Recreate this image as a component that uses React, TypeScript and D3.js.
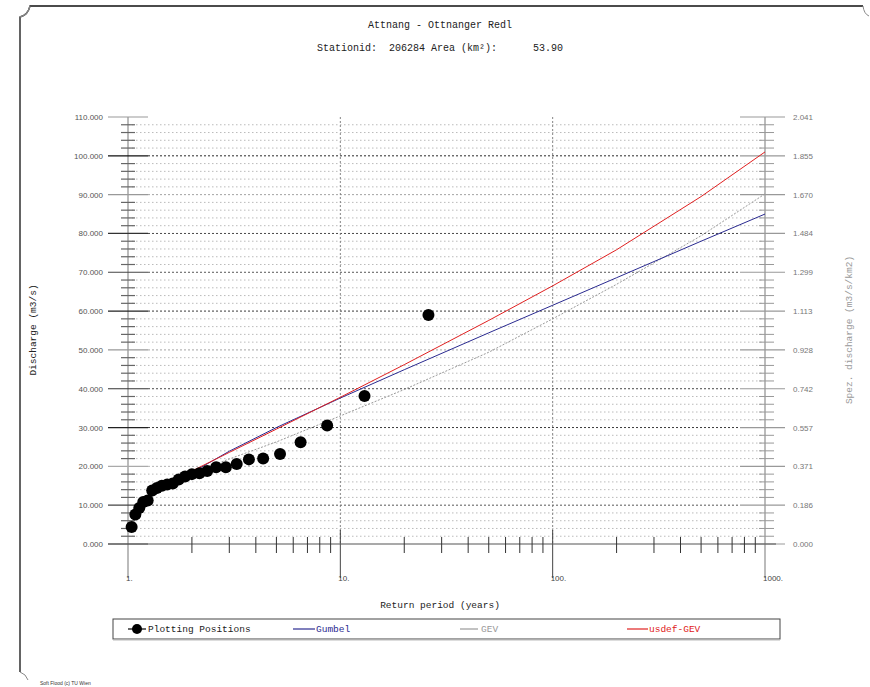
import React from 'react';
import * as d3 from 'd3';

// Plotting positions (return period in years, discharge in m3/s)
const plotT = [26, 13, 8.67, 6.5, 5.2, 4.33, 3.71, 3.25, 2.89, 2.6, 2.36, 2.17, 2.0,
    1.857, 1.733, 1.625, 1.53, 1.444, 1.368, 1.3, 1.238, 1.18, 1.13, 1.083, 1.04];
const plotQ = [59.0, 38.1, 30.5, 26.2, 23.2, 22.0, 21.8, 20.6, 19.8, 19.8, 18.8, 18.2, 18.0,
    17.4, 16.6, 15.6, 15.3, 15.0, 14.4, 13.8, 11.2, 10.8, 9.3, 7.6, 4.4];

// Fitted curves, read at these return periods
const curveT = [2, 3, 5, 10, 20, 50, 100, 200, 500, 1000];
const gumbelQ = [18.4, 23.9, 30.0, 37.6, 44.9, 54.4, 61.5, 68.6, 78.0, 85.0];
const gevQ = [18.4, 21.9, 26.3, 33.0, 39.8, 49.4, 58.0, 66.9, 79.4, 90.2];
const usdefQ = [18.8, 23.6, 29.6, 37.8, 46.2, 57.6, 66.5, 75.8, 89.5, 101.0];

const xTickLabels = ['1.', '10.', '100.', '1000.'];
const xTickValues = [1, 10, 100, 1000];
const area = 53.9;

const W = 870;
const H = 687;
const mono = '"Liberation Mono", "DejaVu Sans Mono", monospace';
const sans = '"Liberation Sans", Arial, sans-serif';

export default function App() {
    const x = d3.scaleLog().domain([1, 1000]).range([128, 765]);
    const y = d3.scaleLinear().domain([0, 110]).range([544, 117]);

    const majors = d3.range(0, 111, 10);
    const minors = d3.range(2, 110, 2).filter(v => v % 10 !== 0);
    const majorColor: Record<number, string> = {
        0: '#555', 10: '#444', 20: '#aaa', 30: '#222', 40: '#333', 50: '#999',
        60: '#222', 70: '#444', 80: '#333', 90: '#999', 100: '#111', 110: '#999'
    };

    const xMinor: number[] = [];
    [1, 10, 100].forEach(d => { for (let k = 2; k <= 9; k++) xMinor.push(d * k); });

    const line = d3.line<number>().x((_, i) => x(curveT[i])).y(d => y(d));

    const right = x(1000);
    const left = x(1);

    return (
        <svg width={W} height={H} style={{ position: 'absolute', left: 0, top: 0, background: '#fff' }}>
            {/* page frame */}
            <g fill="none">
                <path d="M20,672 L20,17 Q28,15 30,6 L863,6" stroke="#111" strokeWidth={1.3} />
                <path d="M20,17 Q28,15 30,6" stroke="#888" strokeWidth={1.3} />
                <path d="M863,6 Q864,14 869,16" stroke="#888" strokeWidth={1} />
                <path d="M20,672 Q26,674 28,680" stroke="#888" strokeWidth={1} />
            </g>
            <text x={40} y={685} fontFamily={sans} fontSize={5} fill="#333">Soft Flood (c) TU Wien</text>

            {/* titles */}
            <text x={440} y={28} textAnchor="middle" fontFamily={mono} fontSize={10} fill="#222">Attnang - Ottnanger Redl</text>
            <text x={440} y={51} textAnchor="middle" fontFamily={mono} fontSize={10} fill="#222" style={{ whiteSpace: 'pre' }}>
                {'Stationid:  206284 Area (km²):      53.90'}
            </text>

            {/* horizontal dotted grid */}
            {minors.map(v => (
                <line key={'g' + v} x1={left} x2={right} y1={y(v)} y2={y(v)} stroke="#aaa" strokeWidth={0.8} strokeDasharray="1.5,2.5" />
            ))}
            {majors.filter(v => v > 0 && v < 110).map(v => (
                <line key={'G' + v} x1={148} x2={740} y1={y(v)} y2={y(v)} stroke={majorColor[v]} strokeWidth={0.9} strokeDasharray="2,2" />
            ))}

            {/* vertical grid at 10 and 100 */}
            {[10, 100].map(v => (
                <g key={'v' + v}>
                    <line x1={x(v)} x2={x(v)} y1={117} y2={544} stroke="#777" strokeWidth={0.9} strokeDasharray="2,2" />
                    <line x1={x(v)} x2={x(v)} y1={530} y2={578} stroke="#444" strokeWidth={1} />
                </g>
            ))}

            {/* left and right axis lines */}
            <line x1={left} x2={left} y1={117} y2={578} stroke="#bbb" strokeWidth={2} />
            <line x1={right} x2={right} y1={117} y2={578} stroke="#bbb" strokeWidth={2} />

            {/* y ticks */}
            {majors.map(v => (
                <g key={'t' + v}>
                    <line x1={108} x2={148} y1={y(v)} y2={y(v)} stroke={majorColor[v]} strokeWidth={1.2} />
                    <line x1={740} x2={785} y1={y(v)} y2={y(v)} stroke="#999" strokeWidth={1.2} />
                    <text x={103} y={y(v) + 3} textAnchor="end" fontFamily={sans} fontSize={8} fill="#555">{v.toFixed(3)}</text>
                    <text x={793} y={y(v) + 3} fontFamily={sans} fontSize={8} fill="#777">{(v / area).toFixed(3)}</text>
                </g>
            ))}
            {minors.map(v => (
                <g key={'m' + v}>
                    <line x1={121} x2={135} y1={y(v)} y2={y(v)} stroke="#666" strokeWidth={1.2} />
                    <line x1={759} x2={774} y1={y(v)} y2={y(v)} stroke="#999" strokeWidth={1} />
                </g>
            ))}

            {/* x axis */}
            <line x1={108} x2={776} y1={544} y2={544} stroke="#555" strokeWidth={1.2} />
            {xMinor.map(v => (
                <line key={'xm' + v} x1={x(v)} x2={x(v)} y1={537} y2={553} stroke="#333" strokeWidth={1} />
            ))}
            {xTickValues.map((v, i) => (
                <text key={'xl' + v} x={x(v) - 2} y={581} fontFamily={sans} fontSize={8} fill="#444">{xTickLabels[i]}</text>
            ))}

            {/* axis titles */}
            <text x={440} y={608} textAnchor="middle" fontFamily={mono} fontSize={9.5} fill="#222">Return period (years)</text>
            <text transform="translate(36,330) rotate(-90)" textAnchor="middle" fontFamily={mono} fontSize={9.5} fill="#222">Discharge (m3/s)</text>
            <text transform="translate(852,330) rotate(-90)" textAnchor="middle" fontFamily={mono} fontSize={9.5} fill="#999">Spez. discharge (m3/s/km2)</text>

            {/* curves */}
            <path d={line(gevQ) || ''} fill="none" stroke="#999" strokeWidth={1} strokeDasharray="2,1.5" />
            <path d={line(gumbelQ) || ''} fill="none" stroke="#2a2a90" strokeWidth={1} />
            <path d={line(usdefQ) || ''} fill="none" stroke="#e02020" strokeWidth={1} />

            {/* plotting positions */}
            {plotT.map((t, i) => (
                <circle key={'p' + i} cx={x(t)} cy={y(plotQ[i])} r={6} fill="#000" />
            ))}

            {/* legend */}
            <rect x={113} y={619} width={667} height={20} fill="#fff" stroke="#444" strokeWidth={1} />
            <line x1={113} x2={780} y1={640} y2={640} stroke="#bbb" strokeWidth={1} />
            <line x1={128} x2={146} y1={629} y2={629} stroke="#000" strokeWidth={1.2} />
            <circle cx={137} cy={629} r={5} fill="#000" />
            <text x={148} y={632} fontFamily={mono} fontSize={9.5} fill="#222">Plotting Positions</text>
            <line x1={293} x2={315} y1={629} y2={629} stroke="#2a2a90" strokeWidth={1.2} />
            <text x={316} y={632} fontFamily={mono} fontSize={9.5} fill="#2a2a90">Gumbel</text>
            <line x1={460} x2={478} y1={629} y2={629} stroke="#999" strokeWidth={1.2} />
            <text x={481} y={632} fontFamily={mono} fontSize={9.5} fill="#999">GEV</text>
            <line x1={627} x2={648} y1={629} y2={629} stroke="#e02020" strokeWidth={1.2} />
            <text x={649} y={632} fontFamily={mono} fontSize={9.5} fill="#e02020">usdef-GEV</text>
        </svg>
    );
}
